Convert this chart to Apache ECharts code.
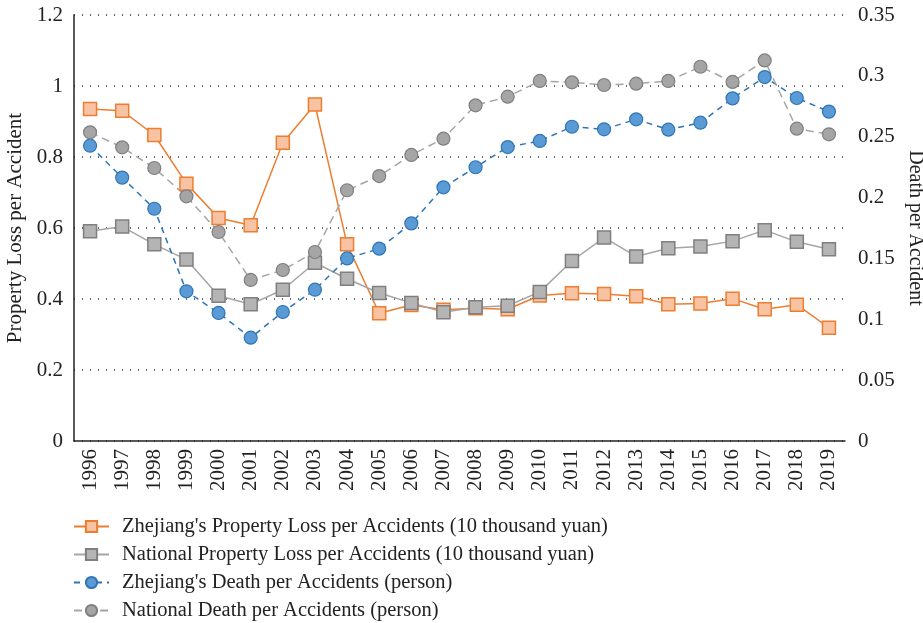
<!DOCTYPE html>
<html><head><meta charset="utf-8">
<script src="https://cdn.jsdelivr.net/npm/echarts@6/dist/echarts.min.js"></script>
<style>html,body{margin:0;padding:0;background:#fff}#c{width:923px;height:623px}</style>
</head><body><div id="c"></div>
<script>
var years = ['1996','1997','1998','1999','2000','2001','2002','2003','2004','2005','2006','2007','2008','2009','2010','2011','2012','2013','2014','2015','2016','2017','2018','2019'];
var zjProperty = [0.935,0.93,0.862,0.725,0.628,0.608,0.84,0.948,0.554,0.36,0.383,0.37,0.374,0.371,0.41,0.416,0.414,0.408,0.385,0.387,0.401,0.371,0.384,0.319];
var natProperty = [0.591,0.604,0.554,0.511,0.409,0.385,0.426,0.502,0.457,0.417,0.389,0.363,0.377,0.381,0.42,0.507,0.573,0.52,0.543,0.548,0.563,0.594,0.561,0.54];
var zjDeath = [0.2426,0.2164,0.1908,0.123,0.1052,0.0849,0.106,0.1243,0.150,0.158,0.1788,0.2084,0.2249,0.2415,0.2465,0.2582,0.2561,0.2643,0.2558,0.2615,0.2815,0.299,0.2818,0.2706];
var natDeath = [0.2536,0.2413,0.2243,0.201,0.1717,0.1323,0.1405,0.1553,0.206,0.2177,0.235,0.2484,0.2758,0.2829,0.2958,0.2947,0.2925,0.2936,0.2958,0.3075,0.295,0.3127,0.2566,0.252];
var names = ["Zhejiang's Property Loss per Accidents (10 thousand yuan)","National Property Loss per Accidents (10 thousand yuan)","Zhejiang's Death per Accidents (person)","National Death per Accidents (person)"];

var font = 'Liberation Serif';
var chart = echarts.init(document.getElementById('c'));
chart.setOption({
  animation:false,
  textStyle:{fontFamily:font},
  grid:{left:74,right:78,top:15,bottom:182,outerBoundsMode:'none',containLabel:false},
  legend:{
    orient:'vertical', left:68, top:511, height:112, itemGap:7, itemWidth:35, itemHeight:14,
    textStyle:{fontFamily:font,fontSize:20.5,color:'#222',padding:[0,0,0,8]},
    data:names
  },
  xAxis:{
    type:'category', data:years, boundaryGap:true,
    axisLine:{lineStyle:{color:'#222',width:1.5}},
    axisTick:{alignWithLabel:true,inside:true,length:5,lineStyle:{color:'#222'}},
    axisLabel:{rotate:90,fontSize:21,color:'#222',fontFamily:font,margin:8}
  },
  yAxis:[{
    type:'value', min:0, max:1.2, interval:0.2,
    name:'Property Loss per Accident', nameLocation:'middle', nameGap:42, nameRotate:90,
    nameTextStyle:{fontSize:21,color:'#222',fontFamily:font},
    axisLine:{show:true,lineStyle:{color:'#222',width:1.5}},
    axisTick:{show:false},
    axisLabel:{fontSize:21,color:'#222',fontFamily:font,margin:11,formatter:function(v){return String(+v.toFixed(1));}},
    splitLine:{show:true,lineStyle:{type:[1,7],color:'#333',width:1.5}}
  },{
    type:'value', min:0, max:0.35, interval:0.05,
    name:'Death per Accident', nameLocation:'middle', nameGap:54, nameRotate:-90,
    nameTextStyle:{fontSize:20,color:'#222',fontFamily:font},
    axisLine:{show:false}, axisTick:{show:false},
    axisLabel:{fontSize:21,color:'#222',fontFamily:font,margin:13,formatter:function(v){return String(+v.toFixed(2));}},
    splitLine:{show:false}
  }],
  series:[{
    name:names[0], type:'line', yAxisIndex:0, data:zjProperty,
    symbol:'rect', symbolSize:13,
    lineStyle:{color:'#ED7D31',width:1.5},
    itemStyle:{color:'#F8C3A3',borderColor:'#ED7D31',borderWidth:1.5}
  },{
    name:names[1], type:'line', yAxisIndex:0, data:natProperty,
    symbol:'rect', symbolSize:13,
    lineStyle:{color:'#A5A5A5',width:1.5},
    itemStyle:{color:'#B4B4B4',borderColor:'#7F7F7F',borderWidth:1.5}
  },{
    name:names[2], type:'line', yAxisIndex:1, data:zjDeath,
    symbol:'circle', symbolSize:13,
    lineStyle:{color:'#2E75B6',width:1.5,type:[6,5]},
    itemStyle:{color:'#5B9BD5',borderColor:'#2E75B6',borderWidth:1.2}
  },{
    name:names[3], type:'line', yAxisIndex:1, data:natDeath,
    symbol:'circle', symbolSize:13,
    lineStyle:{color:'#A5A5A5',width:1.5,type:[8,5]},
    itemStyle:{color:'#A5A5A5',borderColor:'#7F7F7F',borderWidth:1.2}
  }]
});
</script></body></html>
